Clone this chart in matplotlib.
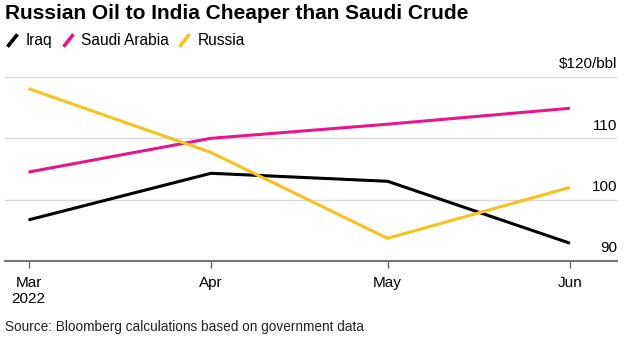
import numpy as np
import matplotlib.pyplot as plt
import matplotlib.transforms as mtransforms
from matplotlib.lines import Line2D
from matplotlib.path import Path

plt.rcParams['font.family'] = ['Liberation Sans', 'DejaVu Sans']

months = np.array(['2022-03-01', '2022-04-01', '2022-05-01', '2022-06-01'], dtype='datetime64[D]')
month_labels = ['Mar\n2022', 'Apr', 'May', 'Jun']
iraq = [96.7, 104.3, 103.0, 92.9]
saudi = [104.5, 110.0, 112.3, 114.9]
russia = [118.1, 107.7, 93.7, 102.0]
series = ['Iraq', 'Saudi Arabia', 'Russia']
colors = ['#000000', '#e8168c', '#f6c21b']
y_ticks = [90, 100, 110, 120]
y_labels = ['90', '100', '110', '$120/bbl']

fig = plt.figure(figsize=(6.26, 3.39), dpi=100)
# axes placed in pixels: left 5, right 617, bottom 261, top 77
W, H = 626, 339
ax = fig.add_axes([5 / W, 1 - 261 / H, 612 / W, (261 - 77) / H])

for vals, c in zip([iraq, saudi, russia], colors):
    ax.plot(months, vals, color=c, lw=2.2, solid_capstyle='butt', solid_joinstyle='miter')

ax.set_ylim(90, 120)
ax.set_xlim(months[0] - np.timedelta64(4, 'D'), months[-1] + np.timedelta64(8, 'D'))
ax.set_xticks(months)
ax.set_xticklabels(month_labels)
ax.set_yticks(y_ticks)
ax.set_yticklabels([])
ax.tick_params(axis='y', length=0)
ax.tick_params(axis='x', length=5, width=1, color='#666666', pad=6, labelsize=11)
for lab in ax.get_xticklabels():
    lab.set_linespacing(1.15)

ax.grid(axis='y', color='#d9d9d9', lw=1)
for s in ['left', 'right', 'top']:
    ax.spines[s].set_visible(False)
ax.spines['bottom'].set_color('#777777')
ax.spines['bottom'].set_linewidth(1.5)
ax.set_axisbelow(True)

off = mtransforms.ScaledTranslation(0, 4 / 72, fig.dpi_scale_trans)
trans = ax.get_yaxis_transform() + off
for v, lab in zip(y_ticks, y_labels):
    ax.text(1.0, v, lab, transform=trans, ha='right', va='bottom', fontsize=11, color='#000000')

fig.text(5 / W, 1 - 4 / H, 'Russian Oil to India Cheaper than Saudi Crude',
         fontsize=15, fontweight='bold', ha='left', va='top')

slash = Path([(-0.4, -0.5), (0.4, 0.5)])
handles = [Line2D([], [], color=c, marker=slash, markersize=9, mew=2.6, linestyle='None')
           for c in colors]
fig.legend(handles, series, loc='upper left', bbox_to_anchor=(2 / W, 1 - 30 / H), ncol=3,
           frameon=False, fontsize=11.2, handlelength=0.9, handletextpad=0.4, numpoints=1,
           columnspacing=0.55, borderaxespad=0, borderpad=0.2)

fig.text(5 / W, 1 - 327 / H, 'Source: Bloomberg calculations based on government data',
         fontsize=9.8, ha='left', va='center', color='#222222')

fig.savefig('out.png', dpi=100)
